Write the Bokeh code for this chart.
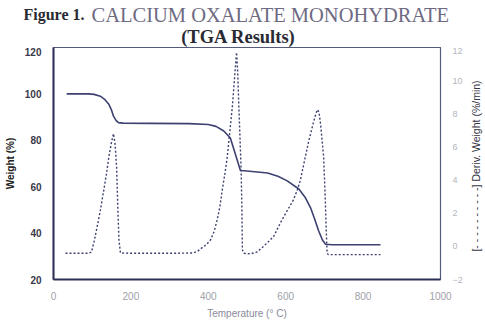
import math
from bokeh.plotting import figure
from bokeh.models import Range1d, LinearAxis, FixedTicker
from bokeh.layouts import column, row
from bokeh.core.properties import value
from bokeh.embed import file_html
from bokeh.resources import INLINE

# Weight (%) vs temperature
temp_w = [34, 60, 90, 105, 121, 133, 143, 150, 155, 162, 168, 180, 250, 350, 400, 420,
          440, 457, 470, 483, 500, 553, 580, 604, 634, 650, 664, 675, 685, 695, 703, 720, 845]
weight = [100, 100, 100, 99.8, 99, 97.5, 95.5, 93, 90.4, 88.5, 87.6, 87.4, 87.3, 87.2, 86.8, 86,
          84, 81, 74, 67, 66.8, 65.9, 64.5, 62.5, 59, 55.5, 51, 46, 41, 37, 35.2, 35, 35]

# Derivative weight (%/min) vs temperature
temp_d = [31, 90, 98, 105, 113, 122, 130, 137, 143, 150, 155, 159, 163, 166, 169, 173,
          200, 300, 360, 372, 385, 395, 406, 415, 423, 430, 436, 443, 449, 456, 462, 468,
          473, 476, 479, 482, 485, 487, 488, 492, 509, 525, 543, 556, 569, 587, 605, 620,
          630, 638, 648, 659, 672, 678, 682, 686, 690, 694, 698, 702, 705, 707, 710, 845]
deriv = [-0.42, -0.42, -0.35, 0.3, 1.2, 2.3, 3.4, 4.4, 5.4, 6.3, 6.8, 6.2, 4.8, 2.5, 0.4, -0.4,
         -0.42, -0.42, -0.4, -0.3, -0.06, 0.1, 0.4, 0.9, 1.6, 2.4, 3.4, 4.4, 5.4, 7.0, 8.4, 10.2,
         11.7, 10.5, 8.4, 6.5, 4.5, 2.0, -0.2, -0.42, -0.45, -0.35, 0.0, 0.3, 0.6, 1.45, 2.2, 2.8,
         3.4, 4.0, 5.1, 6.3, 7.5, 8.0, 8.25, 8.1, 7.4, 6.4, 5.4, 3.0, 0.8, -0.4, -0.5, -0.5]

x_ticks = [0, 200, 400, 600, 800, 1000]
y_ticks = [20, 40, 60, 80, 100, 120]
y2_ticks = [-2, 0, 2, 4, 6, 8, 10, 12]

title_part1 = "Figure 1."
title_part2 = "CALCIUM OXALATE MONOHYDRATE"
title_line2 = "(TGA Results)"
right_label = "[- - - - - - - - - -] Deriv. Weight (%/min)"

line_color = "#3c4170"
axis_dark = "#2b2f55"


def blank(w, h):
    f = figure(width=w, height=h, output_backend="svg", toolbar_location=None,
               x_range=Range1d(0, w), y_range=Range1d(h, 0),
               x_axis_location=None, y_axis_location=None,
               min_border=0, min_border_left=0, min_border_right=0,
               min_border_top=0, min_border_bottom=0)
    f.outline_line_color = None
    f.xgrid.visible = False
    f.ygrid.visible = False
    f.background_fill_color = "white"
    f.border_fill_color = "white"
    return f


# ---- title strip ----
t = blank(485, 47)
t.text(x=[23], y=[14], text=[title_part1], text_align="left", text_baseline="middle",
       text_font=value("Liberation Serif"), text_font_style="bold", text_font_size="16px",
       text_color="#2a2a33")
t.text(x=[91], y=[14], text=[title_part2], text_align="left", text_baseline="middle",
       text_font=value("Liberation Serif"), text_font_size="20.5px", text_color="#6e6a82")
t.text(x=[238], y=[36.5], text=[title_line2], text_align="center", text_baseline="middle",
       text_font=value("Liberation Serif"), text_font_style="bold", text_font_size="18.5px",
       text_color="#2a2a33")

# ---- main plot ----
p = figure(width=466, height=278, output_backend="svg", toolbar_location=None,
           x_range=Range1d(0, 1000), y_range=Range1d(20, 120),
           min_border_left=53, min_border_right=26, min_border_top=0, min_border_bottom=46)
p.background_fill_color = "white"
p.border_fill_color = "white"
p.outline_line_color = "#55597a"
p.outline_line_width = 1.2
p.xgrid.visible = False
p.ygrid.visible = False

p.extra_y_ranges = {"d": Range1d(-2, 12)}

p.line(temp_w, weight, line_color=line_color, line_width=1.6)
p.line(temp_d, deriv, line_color=line_color, line_width=1.4, line_dash="2 2", y_range_name="d")

xa = p.xaxis[0]
xa.ticker = FixedTicker(ticks=x_ticks)
xa.axis_label = "Temperature (° C)"
xa.axis_label_text_font = "Liberation Sans"
xa.axis_label_text_font_style = "normal"
xa.axis_label_text_font_size = "10px"
xa.axis_label_text_color = "#8a8a9a"
xa.axis_label_standoff = 5
xa.major_label_text_font = "Liberation Sans"
xa.major_label_text_font_size = "10px"
xa.major_label_text_color = "#a0a0a8"
xa.major_label_standoff = 12
xa.major_tick_out = 0
xa.major_tick_in = 0
xa.major_tick_line_color = None
xa.minor_tick_line_color = None
xa.axis_line_color = axis_dark
xa.axis_line_width = 2

ya = p.yaxis[0]
ya.ticker = FixedTicker(ticks=y_ticks)
ya.axis_label = "Weight (%)"
ya.axis_label_text_font = "Liberation Sans"
ya.axis_label_text_font_style = "bold"
ya.axis_label_text_font_size = "10px"
ya.axis_label_text_color = "#222222"
ya.axis_label_standoff = 6
ya.major_label_text_font = "Liberation Sans"
ya.major_label_text_font_style = "bold"
ya.major_label_text_font_size = "10px"
ya.major_label_text_color = "#3a3a4a"
ya.major_label_standoff = 12
ya.major_tick_out = 0
ya.major_tick_in = 0
ya.major_tick_line_color = None
ya.minor_tick_line_color = None
ya.axis_line_color = axis_dark
ya.axis_line_width = 2

ra = LinearAxis(y_range_name="d", ticker=FixedTicker(ticks=y2_ticks))
ra.major_label_text_font = "Liberation Sans"
ra.major_label_text_font_size = "9px"
ra.major_label_text_color = "#b4b4bc"
ra.major_label_standoff = 12
ra.major_tick_out = 0
ra.major_tick_in = 0
ra.major_tick_line_color = None
ra.minor_tick_line_color = None
ra.axis_line_color = None
p.add_layout(ra, "right")

# ---- right-side axis title strip ----
s = blank(19, 278)
s.text(x=[9], y=[142], text=[right_label], angle=math.pi / 2, text_align="center",
       text_baseline="middle", text_font=value("Liberation Sans"), text_font_size="10.5px",
       text_color="#333344")

layout = column(t, row(p, s, spacing=0), spacing=0)

open("out.html", "w").write(file_html(layout, INLINE))
